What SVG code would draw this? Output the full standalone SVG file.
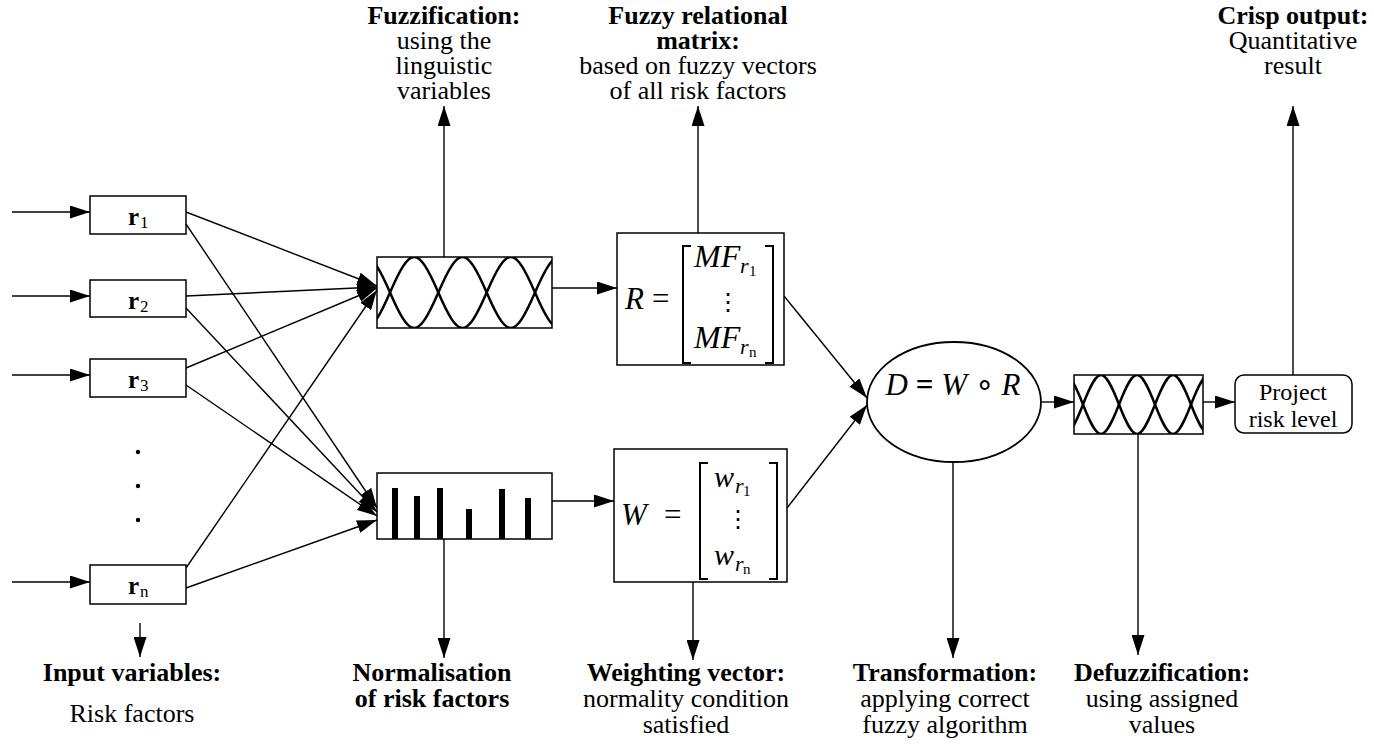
<svg xmlns="http://www.w3.org/2000/svg" width="1374" height="748" viewBox="0 0 1374 748">
<style>
text{font-family:"Liberation Serif","Times New Roman",serif;fill:#000}
.t{font-size:26px;text-anchor:middle}
.b{font-weight:bold}
.box{fill:#fff;stroke:#000;stroke-width:1.5}
.con{fill:none;stroke:#000;stroke-width:1.4;marker-end:url(#ah)}
.crv{fill:none;stroke:#000;stroke-width:2.5}
.brk{fill:none;stroke:#000;stroke-width:2}
.rv{font-size:25px;font-weight:bold}
.sb{font-size:17px}
.m{font-style:italic}
</style>
<defs>
<marker id="ah" viewBox="0 0 20 13" refX="20" refY="6.5" markerWidth="20" markerHeight="13" orient="auto" markerUnits="userSpaceOnUse">
<path d="M0,0 L20,6.5 L0,13 z" fill="#000"/>
</marker>
<clipPath id="cf"><rect x="377" y="257" width="175" height="71"/></clipPath>
<clipPath id="cd"><rect x="1074" y="375" width="129" height="59"/></clipPath>
</defs>

<g id="connectors">
<path class="con" d="M12,212 H90"/>
<path class="con" d="M12,296 H90"/>
<path class="con" d="M12,375 H90"/>
<path class="con" d="M12,582 H90"/>
<path class="con" d="M186,212 L377,286"/>
<path class="con" d="M186,296 L377,287"/>
<path class="con" d="M186,368 L377,288"/>
<path class="con" d="M186,568 L377,290"/>
<path class="con" d="M186,224 L377,508"/>
<path class="con" d="M186,308 L377,512"/>
<path class="con" d="M186,385 L377,516"/>
<path class="con" d="M186,588 L377,520"/>
<path class="con" d="M552,288 H617"/>
<path class="con" d="M552,501 H614"/>
<path class="con" d="M784,296 L867,398"/>
<path class="con" d="M787,508 L867,405"/>
<path class="con" d="M1042,402 H1074"/>
<path class="con" d="M1203,402 H1235"/>
<path class="con" d="M444,257 V106"/>
<path class="con" d="M698,233 V106"/>
<path class="con" d="M1293,375 V106"/>
<path class="con" d="M140,623 V657"/>
<path class="con" d="M444,539 V658"/>
<path class="con" d="M693,582 V660"/>
<path class="con" d="M953,462 V658"/>
<path class="con" d="M1138,434 V655"/>
</g>

<g id="r1"><rect class="box" x="90" y="196" width="96" height="38"/><text x="128" y="225" class="rv">r</text><text x="140" y="228" class="sb">1</text></g>
<g id="r2"><rect class="box" x="90" y="280" width="96" height="37"/><text x="128" y="309" class="rv">r</text><text x="140" y="312" class="sb">2</text></g>
<g id="r3"><rect class="box" x="90" y="359" width="96" height="38"/><text x="128" y="388" class="rv">r</text><text x="140" y="391" class="sb">3</text></g>
<g id="dots"><circle cx="138" cy="452" r="2.2"/><circle cx="138" cy="486" r="2.2"/><circle cx="138" cy="520" r="2.2"/></g>
<g id="rn"><rect class="box" x="90" y="565" width="96" height="39"/><text x="128" y="594" class="rv">r</text><text x="140" y="597" class="sb">n</text></g>

<g id="fuzzifier">
<rect class="box" x="377" y="257" width="175" height="71"/>
<g clip-path="url(#cf)">
<path class="crv" d="M341.67,292.5 C362.18,339.83 369.49,339.83 390,292.5 C410.51,245.17 417.82,245.17 438.33,292.5 C458.84,339.83 466.15,339.83 486.67,292.5 C507.18,245.17 514.49,245.17 535,292.5 C555.51,339.83 562.82,339.83 583.33,292.5"/>
<path class="crv" d="M341.67,292.5 C362.18,245.17 369.49,245.17 390,292.5 C410.51,339.83 417.82,339.83 438.33,292.5 C458.84,245.17 466.15,245.17 486.67,292.5 C507.18,339.83 514.49,339.83 535,292.5 C555.51,245.17 562.82,245.17 583.33,292.5"/>
</g>
</g>

<g id="normaliser">
<rect class="box" x="377" y="473" width="175" height="66"/>
<rect x="392" y="488" width="6" height="51"/>
<rect x="414" y="496" width="6" height="43"/>
<rect x="437" y="488" width="6" height="51"/>
<rect x="466" y="509" width="6" height="30"/>
<rect x="499" y="489" width="6" height="50"/>
<rect x="525" y="498" width="6" height="41"/>
</g>

<g id="R">
<rect class="box" x="617" y="233" width="167" height="132"/>
<text x="625" y="309" class="m" font-size="31">R</text>
<text x="652" y="309" font-size="31">=</text>
<path class="brk" d="M691,246 H683 V363 H691 M765,246 H773 V363 H765"/>
<text x="694" y="267" class="m" font-size="32">MF</text><text x="740" y="273" class="m" font-size="22">r</text><text x="749" y="276" font-size="15">1</text>
<text x="728" y="310" font-size="24" text-anchor="middle" style="font-family:'DejaVu Serif',serif">⋮</text>
<text x="694" y="348" class="m" font-size="32">MF</text><text x="740" y="354" class="m" font-size="22">r</text><text x="749" y="357" font-size="15">n</text>
</g>

<g id="W">
<rect class="box" x="614" y="449" width="173" height="133"/>
<text x="621" y="525" class="m" font-size="31">W</text>
<text x="664" y="525" font-size="31">=</text>
<path class="brk" d="M708,463 H700 V579 H708 M769,463 H777 V579 H769"/>
<text x="714" y="487" class="m" font-size="30">w</text><text x="735" y="493" class="m" font-size="22">r</text><text x="743" y="496" font-size="15">1</text>
<text x="738" y="527" font-size="24" text-anchor="middle" style="font-family:'DejaVu Serif',serif">⋮</text>
<text x="714" y="565" class="m" font-size="30">w</text><text x="735" y="571" class="m" font-size="22">r</text><text x="743" y="574" font-size="15">n</text>
</g>

<g id="D">
<ellipse cx="954" cy="402" rx="87" ry="60" fill="#fff" stroke="#000" stroke-width="1.8"/>
<text x="953" y="395" font-size="31" text-anchor="middle"><tspan class="m">D</tspan> <tspan font-weight="bold">=</tspan> <tspan class="m">W</tspan> ∘ <tspan class="m">R</tspan></text>
</g>

<g id="defuzzifier">
<rect class="box" x="1074" y="375" width="129" height="59"/>
<g clip-path="url(#cd)">
<path class="crv" d="M1047,404.5 C1062.28,443.83 1067.72,443.83 1083,404.5 C1098.28,365.17 1103.72,365.17 1119,404.5 C1134.28,443.83 1139.72,443.83 1155,404.5 C1170.28,365.17 1175.72,365.17 1191,404.5 C1206.28,443.83 1211.72,443.83 1227,404.5"/>
<path class="crv" d="M1047,404.5 C1062.28,365.17 1067.72,365.17 1083,404.5 C1098.28,443.83 1103.72,443.83 1119,404.5 C1134.28,365.17 1139.72,365.17 1155,404.5 C1170.28,443.83 1175.72,443.83 1191,404.5 C1206.28,365.17 1211.72,365.17 1227,404.5"/>
</g>
</g>

<g id="project">
<rect class="box" x="1235" y="375" width="117" height="58" rx="9"/>
<text x="1293" y="400" class="t" style="font-size:24px">Project</text>
<text x="1293" y="427" class="t" style="font-size:24px">risk level</text>
</g>

<g id="label-fuzzification">
<text x="444" y="24" class="t b">Fuzzification:</text>
<text x="444" y="49" class="t">using the</text>
<text x="444" y="74" class="t">linguistic</text>
<text x="444" y="99" class="t">variables</text>
</g>
<g id="label-matrix">
<text x="698" y="24" class="t b">Fuzzy relational</text>
<text x="698" y="49" class="t b">matrix:</text>
<text x="698" y="74" class="t">based on fuzzy vectors</text>
<text x="698" y="99" class="t">of all risk factors</text>
</g>
<g id="label-crisp">
<text x="1293" y="24" class="t b">Crisp output:</text>
<text x="1293" y="49" class="t">Quantitative</text>
<text x="1293" y="74" class="t">result</text>
</g>
<g id="label-input">
<text x="132" y="681" class="t b">Input variables:</text>
<text x="132" y="722" class="t">Risk factors</text>
</g>
<g id="label-normalisation">
<text x="432" y="681" class="t b">Normalisation</text>
<text x="432" y="707" class="t b">of risk factors</text>
</g>
<g id="label-weighting">
<text x="686" y="681" class="t b">Weighting vector:</text>
<text x="686" y="707" class="t">normality condition</text>
<text x="686" y="733" class="t">satisfied</text>
</g>
<g id="label-transformation">
<text x="945" y="681" class="t b">Transformation:</text>
<text x="945" y="707" class="t">applying correct</text>
<text x="945" y="733" class="t">fuzzy algorithm</text>
</g>
<g id="label-defuzzification">
<text x="1162" y="681" class="t b">Defuzzification:</text>
<text x="1162" y="707" class="t">using assigned</text>
<text x="1162" y="733" class="t">values</text>
</g>
</svg>
